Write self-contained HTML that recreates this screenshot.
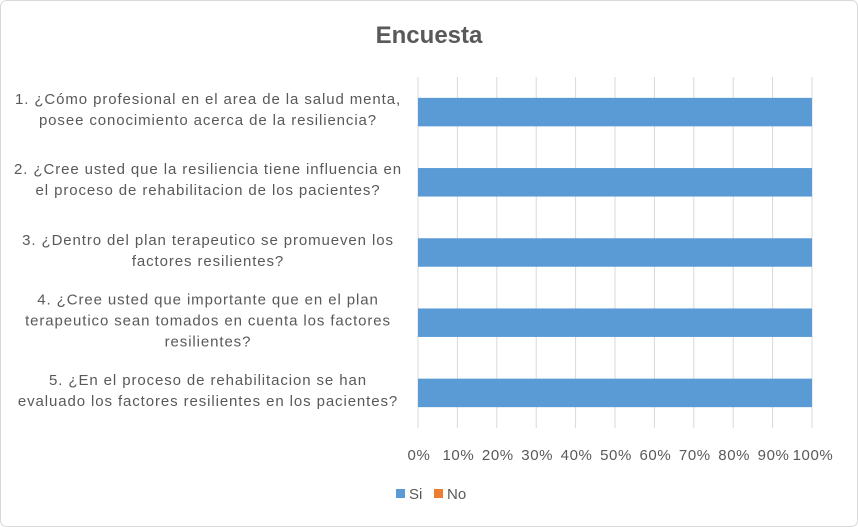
<!DOCTYPE html>
<html><head><meta charset="utf-8"><style>
body{margin:0;background:#fff;font-family:"Liberation Sans",sans-serif;}
#c{position:relative;width:858px;height:527px;}
.lab{position:absolute;left:4px;width:408px;text-align:center;font-size:15px;line-height:21px;letter-spacing:0.9px;color:#595959;transform:translateY(-50%);white-space:nowrap;}
</style></head><body>
<div id="c">
<svg width="858" height="527" style="position:absolute;left:0;top:0">
<rect x="0.5" y="0.5" width="857" height="526" rx="6" fill="#fff" stroke="#d9d9d9"/>
<text x="429" y="43" text-anchor="middle" font-size="24" font-weight="bold" fill="#595959" font-family="Liberation Sans">Encuesta</text>
<g id="grid"></g><g id="bars"></g><g id="ticks"></g>
<g>
<rect x="396" y="489" width="9" height="9" fill="#5b9bd5"/>
<text x="409" y="499" font-size="15" fill="#595959" font-family="Liberation Sans">Si</text>
<rect x="434" y="489" width="9" height="9" fill="#ed7d31"/>
<text x="447" y="499" font-size="15" fill="#595959" font-family="Liberation Sans">No</text>
</g>
</svg>
<div id="labels"></div>
</div>
<script>
const categories=[
["1. ¿Cómo profesional en el area de la salud menta,","posee conocimiento acerca de la resiliencia?"],
["2. ¿Cree usted que la resiliencia tiene influencia en","el proceso de rehabilitacion de los pacientes?"],
["3. ¿Dentro del plan terapeutico se promueven los","factores resilientes?"],
["4. ¿Cree usted que importante que en el plan","terapeutico sean tomados en cuenta los factores","resilientes?"],
["5. ¿En el proceso de rehabilitacion se han","evaluado los factores resilientes en los pacientes?"]];
const siValues=[100,100,100,100,100];
const noValues=[0,0,0,0,0];
const tickLabels=["0%","10%","20%","30%","40%","50%","60%","70%","80%","90%","100%"];
const tickValues=[0,10,20,30,40,50,60,70,80,90,100];
const X0=418,X1=812,Y0=77,Y1=428;
const xs=v=>X0+(X1-X0)*v/100;
const band=(Y1-Y0)/categories.length;
const yc=i=>Y0+band*(i+0.5);
const NS="http://www.w3.org/2000/svg";
const grid=document.getElementById('grid'),bars=document.getElementById('bars'),ticks=document.getElementById('ticks');
tickValues.forEach((v,i)=>{
 const l=document.createElementNS(NS,'line');
 l.setAttribute('x1',xs(v));l.setAttribute('x2',xs(v));l.setAttribute('y1',Y0);l.setAttribute('y2',Y1);
 l.setAttribute('stroke','#d9d9d9');l.setAttribute('stroke-width','1');
 
 
 grid.appendChild(l);
 const t=document.createElementNS(NS,'text');
 t.setAttribute('x',xs(v)+1);t.setAttribute('y',460);t.setAttribute('text-anchor','middle');
 t.setAttribute('font-size','15');t.setAttribute('fill','#595959');t.setAttribute('font-family','Liberation Sans');
 t.setAttribute('letter-spacing','0.6');
 t.textContent=tickLabels[i];
 
 
 ticks.appendChild(t);
});
const bh=28.5;
siValues.forEach((v,i)=>{
 const r=document.createElementNS(NS,'rect');
 r.setAttribute('x',xs(0));r.setAttribute('width',xs(v)-xs(0));
 r.setAttribute('y',yc(i)-bh/2);r.setAttribute('height',bh);r.setAttribute('fill','#5b9bd5');
 
 
 bars.appendChild(r);
 const n=document.createElementNS(NS,'rect');
 n.setAttribute('x',xs(v));n.setAttribute('width',xs(v+noValues[i])-xs(v));
 n.setAttribute('y',yc(i)-bh/2);n.setAttribute('height',bh);n.setAttribute('fill','#ed7d31');
 
 
 bars.appendChild(n);
});
const labs=document.getElementById('labels');
categories.forEach((c,i)=>{
 const d=document.createElement('div');
 d.className='lab';d.style.top=(yc(i)-2)+'px';
 d.innerHTML=c.join('<br>');
 
 
 labs.appendChild(d);
});
</script>
</body></html>
